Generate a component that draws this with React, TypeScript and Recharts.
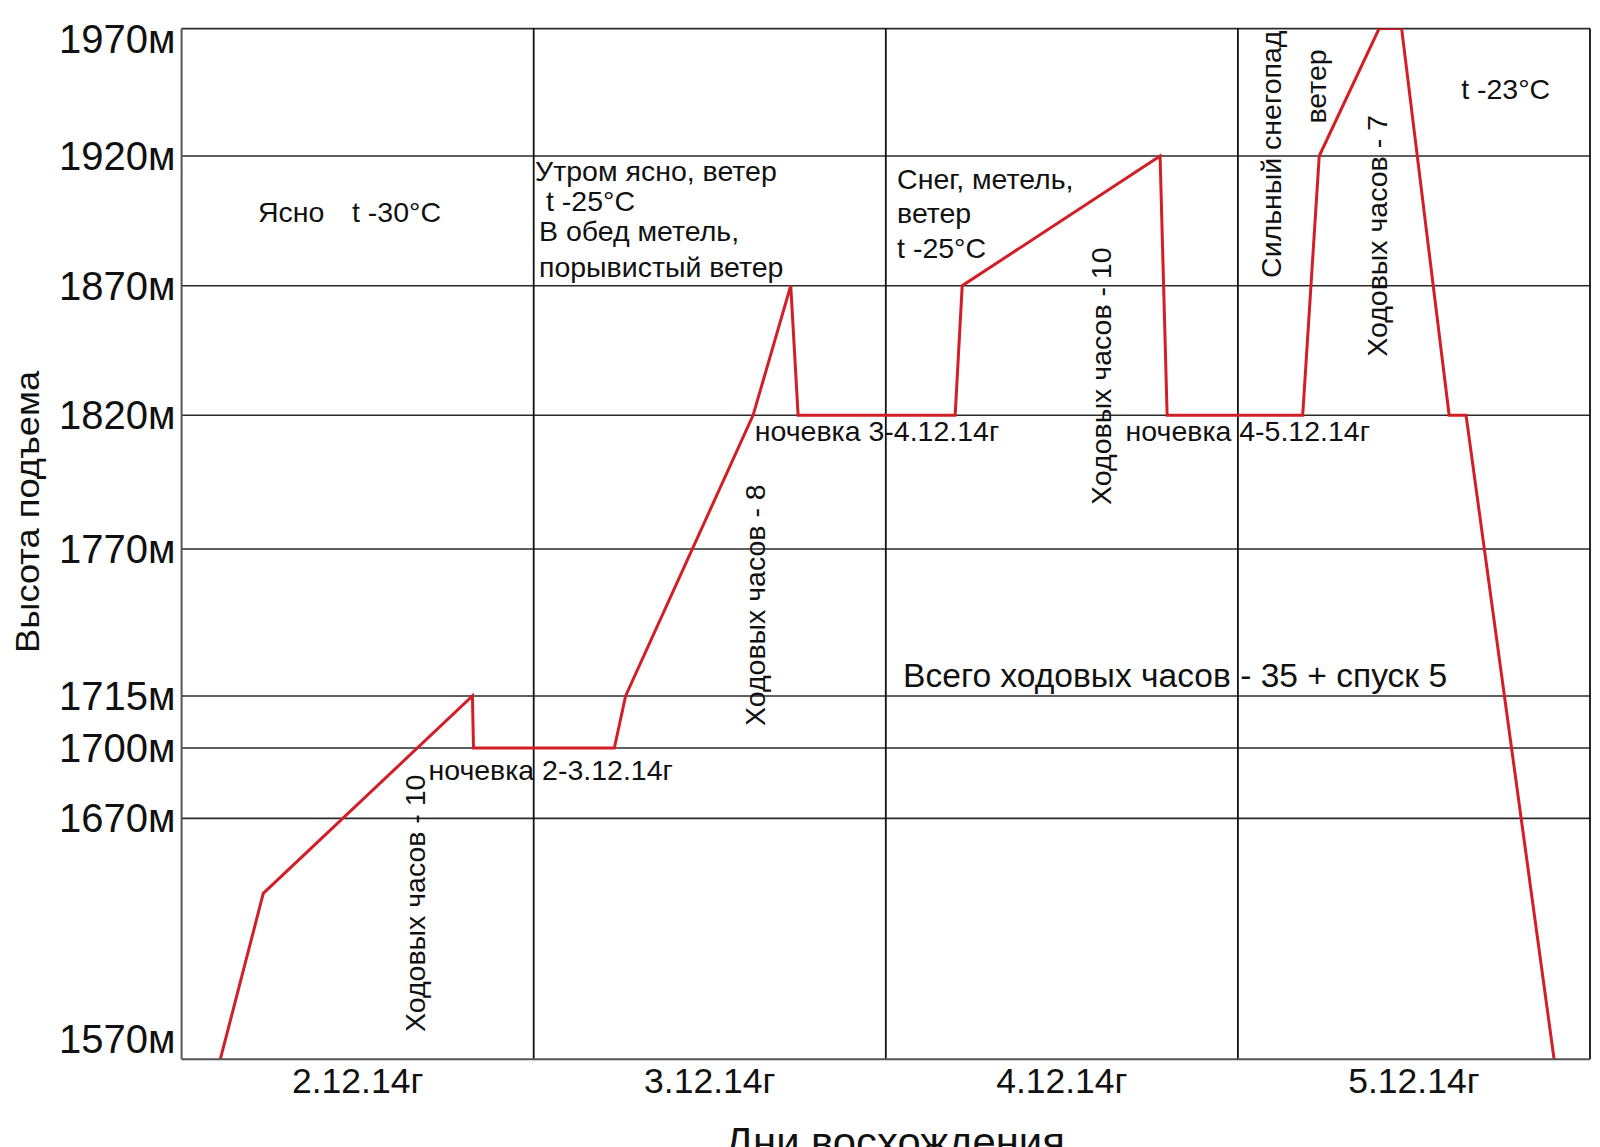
import React from 'react';
import { LineChart, Line, XAxis, YAxis, CartesianGrid, ReferenceDot } from 'recharts';

// ---------- data ----------
const dayLabels = ['2.12.14г', '3.12.14г', '4.12.14г', '5.12.14г'];
const dayTicks = [0.5, 1.5, 2.5, 3.5];
const dayBorders = [1, 2, 3, 4];

const altitudeTicks = [1570, 1670, 1700, 1715, 1770, 1820, 1870, 1920, 1970];
const gridAltitudes = [1670, 1700, 1715, 1770, 1820, 1870, 1920, 1970];

// route profile: position in days (0 = start of 2.12) and altitude, m
const routeDay = [0.11, 0.232, 0.826, 0.829, 1.229, 1.261, 1.623, 1.73, 1.751, 2.197, 2.217, 2.779, 2.799, 3.184, 3.231, 3.401, 3.465, 3.6, 3.648, 3.898];
const routeAlt = [1560, 1636, 1715, 1700, 1700, 1715, 1820, 1870, 1820, 1820, 1870, 1920, 1820, 1820, 1920, 1970, 1970, 1820, 1820, 1560];

// the original drawing uses an uneven altitude axis: breakpoints and their relative spacing
const axisBreakAlt = [1560, 1570, 1670, 1700, 1715, 1770, 1820, 1870, 1920, 1970];
const axisBreakPos = [0, 20.4, 240.8, 311.2, 363.2, 510.2, 643.9, 773.5, 903.2, 1030.6];

type Note = { text: string; day: number; alt: number; rotate?: boolean; size?: number; len?: number };
const notes: Note[] = [
  { text: 'Ясно', day: 0.217, alt: 1898.3 },
  { text: 't -30°C', day: 0.484, alt: 1898.3 },
  { text: 'Утром ясно, ветер', day: 1.004, alt: 1914.3 },
  { text: 't -25°C', day: 1.035, alt: 1902.6 },
  { text: 'В обед метель,', day: 1.015, alt: 1891.2 },
  { text: 'порывистый ветер', day: 1.015, alt: 1877.1 },
  { text: 'Снег, метель,', day: 2.032, alt: 1911.3 },
  { text: 'ветер', day: 2.032, alt: 1897.9 },
  { text: 't -25°C', day: 2.032, alt: 1884.5 },
  { text: 'Сильный снегопад', day: 3.094, alt: 1920.7, rotate: true },
  { text: 'ветер', day: 3.223, alt: 1947.3, rotate: true },
  { text: 'Ходовых часов - 7', day: 3.396, alt: 1889.2, rotate: true },
  { text: 't -23°C', day: 3.634, alt: 1946.3 },
  { text: 'Ходовых часов - 10', day: 2.611, alt: 1835.1, rotate: true },
  { text: 'ночевка 4-5.12.14г', day: 2.681, alt: 1814.3 },
  { text: 'ночевка 3-4.12.14г', day: 1.628, alt: 1814.3 },
  { text: 'Ходовых часов - 8', day: 1.628, alt: 1749, rotate: true },
  { text: 'Всего ходовых часов - 35 + спуск 5', day: 2.049, alt: 1723, size: 34, len: 544 },
  { text: 'ночевка 2-3.12.14г', day: 0.701, alt: 1690.5 },
  { text: 'Ходовых часов - 10', day: 0.663, alt: 1631.5, rotate: true },
];

// ---------- helpers ----------
function toAxis(alt: number): number {
  const a = axisBreakAlt, p = axisBreakPos;
  if (alt <= a[0]) return p[0];
  for (let i = 1; i < a.length; i++) {
    if (alt <= a[i]) {
      const t = (alt - a[i - 1]) / (a[i] - a[i - 1]);
      return p[i - 1] + t * (p[i] - p[i - 1]);
    }
  }
  return p[p.length - 1];
}

const route = routeDay.map((d, i) => ({ day: d, alt: routeAlt[i], pos: toAxis(routeAlt[i]) }));
const yTickPos = altitudeTicks.map(toAxis);
const FONT = '"Liberation Sans", Arial, sans-serif';
const INK = '#111';

const YTick = (props: any) => {
  const { x, y, payload } = props;
  let idx = 0;
  let best = Infinity;
  yTickPos.forEach((v, i) => {
    const d = Math.abs(v - payload.value);
    if (d < best) { best = d; idx = i; }
  });
  const alt = altitudeTicks[idx];
  const dy = alt === 1970 ? 10 : 0;
  return (
    <text x={x - 6} y={y + dy} textAnchor="end" dominantBaseline="central" fontSize={40} fill={INK} fontFamily={FONT}>
      {`${alt}м`}
    </text>
  );
};

const XTick = (props: any) => {
  const { x, y, payload } = props;
  const i = dayTicks.indexOf(payload.value);
  return (
    <text x={x} y={y + 33.5} textAnchor="middle" fontSize={35.5} fill={INK} fontFamily={FONT}>
      {dayLabels[i]}
    </text>
  );
};

const noteLabel = (n: Note) => (p: any) => {
  const vb = p.viewBox || {};
  const x = (vb.x || 0) + (vb.width || 0) / 2;
  const y = (vb.y || 0) + (vb.height || 0) / 2;
  const size = n.size || 28.5;
  const extra: any = n.len ? { textLength: n.len, lengthAdjust: 'spacingAndGlyphs' } : {};
  if (n.rotate) {
    return (
      <text x={x} y={y} transform={`rotate(-90 ${x} ${y})`} textAnchor="middle" dominantBaseline="central"
        fontSize={size} fill={INK} fontFamily={FONT} {...extra}>
        {n.text}
      </text>
    );
  }
  return (
    <text x={x} y={y} textAnchor="start" dominantBaseline="central" fontSize={size} fill={INK} fontFamily={FONT} {...extra}>
      {n.text}
    </text>
  );
};

const YTitle = (p: any) => {
  const vb = p.viewBox || {};
  const x = (vb.x || 0) + 21;
  const y = (vb.y || 0) + (vb.height || 0) / 2 - 32;
  return (
    <text x={x} y={y} transform={`rotate(-90 ${x} ${y})`} textAnchor="middle" dominantBaseline="central"
      fontSize={33} fill={INK} fontFamily={FONT} textLength={282} lengthAdjust="spacingAndGlyphs">
      Высота подъема
    </text>
  );
};

const XTitle = (p: any) => {
  const vb = p.viewBox || {};
  const x = (vb.x || 0) + (vb.width || 0) / 2 + 9;
  const y = (vb.y || 0) + 96.4;
  return (
    <text x={x} y={y} textAnchor="middle" fontSize={40} fill={INK} fontFamily={FONT} textLength={340} lengthAdjust="spacingAndGlyphs">
      Дни восхождения
    </text>
  );
};

export default function App() {
  return (
    <div style={{ position: 'absolute', left: 0, top: 0, width: 1600, height: 1147, background: '#fff' }}>
      <LineChart
        width={1600}
        height={1147}
        data={route}
        margin={{ top: 28.6, right: 10, bottom: 27.8, left: 6.6 }}
        style={{ fontFamily: FONT }}
      >
        <CartesianGrid
          vertical={false}
          horizontalValues={gridAltitudes.map(toAxis)}
          stroke="#2a2a2a"
          strokeWidth={1.6}
          strokeDasharray=""
        />
        <CartesianGrid
          horizontal={false}
          verticalValues={dayBorders}
          stroke="#111"
          strokeWidth={1.8}
          strokeDasharray=""
        />
        <XAxis
          dataKey="day"
          type="number"
          domain={[0, 4]}
          ticks={dayTicks}
          allowDataOverflow
          tick={<XTick />}
          tickLine={false}
          tickSize={0}
          tickMargin={0}
          height={60}
          axisLine={{ stroke: '#555', strokeWidth: 2 }}
          label={XTitle}
        />
        <YAxis
          type="number"
          domain={[0, axisBreakPos[axisBreakPos.length - 1]]}
          ticks={yTickPos}
          allowDataOverflow
          interval={0}
          tick={<YTick />}
          tickLine={false}
          tickSize={0}
          tickMargin={0}
          width={175}
          axisLine={{ stroke: '#555', strokeWidth: 2 }}
          label={YTitle}
        />
        <Line
          type="linear"
          dataKey="pos"
          stroke="#d21f26"
          strokeWidth={3}
          dot={false}
          activeDot={false}
          isAnimationActive={false}
        />
        {notes.map((n, i) => (
          <ReferenceDot
            key={i}
            x={n.day}
            y={toAxis(n.alt)}
            r={0}
            fill="none"
            stroke="none"
            label={noteLabel(n)}
          />
        ))}
      </LineChart>
    </div>
  );
}
